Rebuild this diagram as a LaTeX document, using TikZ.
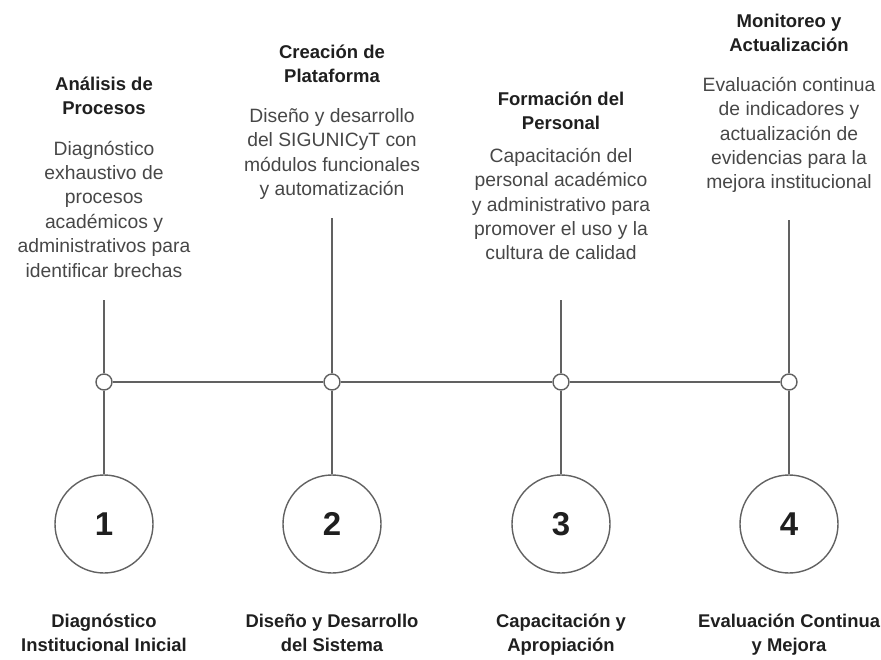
\documentclass[tikz,border=0pt]{standalone}
\usepackage{fontspec}
\setmainfont{Liberation Sans}
\usetikzlibrary{positioning}
\colorlet{linegray}{black!62}

\begin{document}
\begin{tikzpicture}[x=1pt, y=-1pt,
  stepcircle/.style={circle, draw=linegray, line width=1.4pt, minimum size=98pt, inner sep=0pt, text=black!88, font=\bfseries\fontsize{33}{36}\selectfont},
  joint/.style={circle, draw=linegray, fill=white, line width=1.4pt, minimum size=16pt, inner sep=0pt},
  link/.style={draw=linegray, line width=1.4pt},
  steptitle/.style={align=center, text=black!88, font=\bfseries\fontsize{18.5}{23.5}\selectfont},
  stepdesc/.style={align=center, text=black!72, font=\fontsize{19.3}{24.4}\selectfont},
  phase/.style={align=center, text=black!88, font=\bfseries\fontsize{18.4}{24}\selectfont}]

\useasboundingbox (0,0) rectangle (881,659);

% TIMELINE

\node [joint] (joint1) at (104,382) {};
\node [joint] (joint2) at (332,382) {};
\node [joint] (joint3) at (561,382) {};
\node [joint] (joint4) at (789,382) {};

\draw [link] (joint1) -- (joint2) -- (joint3) -- (joint4);

% STEPS

\node [stepcircle] (analisis) at (104,524) {1};
\node [stepcircle] (creacion) at (332,524) {2};
\node [stepcircle] (formacion) at (561,524) {3};
\node [stepcircle] (monitoreo) at (789,524) {4};

\node [phase, below=37pt of analisis] (analisisfase) {Diagnóstico\\Institucional Inicial};
\node [phase, below=37pt of creacion] (creacionfase) {Diseño y Desarrollo\\del Sistema};
\node [phase, below=37pt of formacion] (formacionfase) {Capacitación y\\Apropiación};
\node [phase, below=37pt of monitoreo] (monitoreofase) {Evaluación Continua\\y Mejora};

% TEXTS

\node [steptitle] (analisistitulo) at (104,96) {Análisis de\\Procesos};
\node [stepdesc] (analisistexto) at (104,209) {Diagnóstico\\exhaustivo de\\procesos\\académicos y\\administrativos para\\identificar brechas};

\node [steptitle] (creaciontitulo) at (332,64) {Creación de\\Plataforma};
\node [stepdesc] (creaciontexto) at (332,154) {Diseño y desarrollo\\del SIGUNICyT con\\módulos funcionales\\y automatización};

\node [steptitle] (formaciontitulo) at (561,111) {Formación del\\Personal};
\node [stepdesc] (formaciontexto) at (561,204) {Capacitación del\\personal académico\\y administrativo para\\promover el uso y la\\cultura de calidad};

\node [steptitle] (monitoreotitulo) at (789,33) {Monitoreo y\\Actualización};
\node [stepdesc] (monitoreotexto) at (789,135) {Evaluación continua\\de indicadores y\\actualización de\\evidencias para la\\mejora institucional};

% CONNECTORS

\coordinate (analisistope) at (104,300);
\coordinate (creaciontope) at (332,218);
\coordinate (formaciontope) at (561,300);
\coordinate (monitoreotope) at (789,220);

\draw [link] (analisistope) -- (joint1) -- (analisis);
\draw [link] (creaciontope) -- (joint2) -- (creacion);
\draw [link] (formaciontope) -- (joint3) -- (formacion);
\draw [link] (monitoreotope) -- (joint4) -- (monitoreo);

\end{tikzpicture}
\end{document}
